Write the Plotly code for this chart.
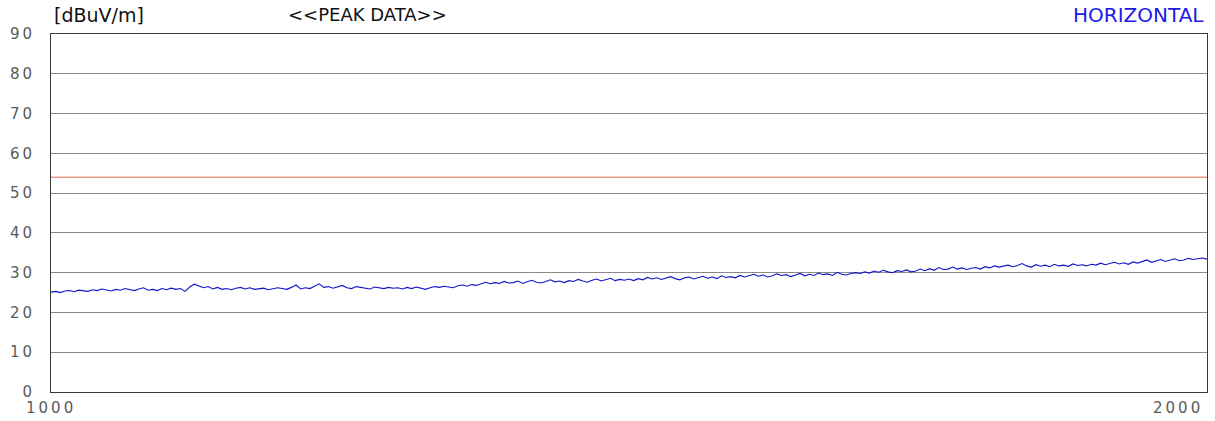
import plotly.graph_objects as go

# Frequency sweep, 1000-2000 MHz in 4 MHz steps
freq_start = 1000
freq_step = 4

# Peak level readings [dBuV/m], one row per 100 MHz
peak_level = [
    25.1, 25.3, 25.0, 25.4, 25.5, 25.2, 25.6, 25.4, 25.3, 25.7, 25.5, 25.9, 25.6, 25.4, 25.8, 25.6, 26.0, 25.7, 25.5, 25.9, 26.2, 25.6, 25.8, 25.5, 26.0,
    25.7, 26.1, 25.8, 26.0, 25.3, 26.4, 27.1, 26.6, 26.2, 26.5, 25.9, 26.3, 25.8, 26.0, 25.7, 26.1, 26.3, 25.9, 26.2, 25.8, 26.0, 26.1, 25.7, 26.0, 26.2,
    26.0, 25.8, 26.3, 26.9, 25.9, 26.2, 26.0, 26.6, 27.2, 26.3, 26.5, 26.1, 26.4, 26.8, 26.2, 26.0, 26.5, 26.3, 26.1, 25.9, 26.4, 26.2, 26.0, 26.3, 26.1,
    26.2, 25.9, 26.3, 26.0, 26.4, 26.1, 25.8, 26.2, 26.5, 26.3, 26.6, 26.4, 26.2, 26.7, 26.9, 26.6, 27.0, 26.8, 27.3, 27.6, 27.2, 27.5, 27.3, 27.8, 27.4,
    27.5, 27.9, 27.3, 27.7, 28.1, 27.6, 27.4, 27.8, 28.2, 27.7, 27.9, 27.5, 28.0, 27.8, 28.3, 27.9, 27.6, 28.1, 28.4, 27.9, 28.2, 28.6, 28.0, 28.3, 28.1,
    28.4, 28.0, 28.5, 28.2, 28.8, 28.4, 28.7, 28.3, 28.6, 29.0, 28.5, 28.2, 28.7, 28.9, 28.4, 28.8, 29.1, 28.6, 28.9, 28.5, 29.2, 28.8, 29.0, 28.7, 29.3,
    28.9, 29.3, 29.6, 29.1, 29.4, 28.9, 29.2, 29.7, 29.3, 29.5, 29.0, 29.4, 29.8, 29.2, 29.6, 29.3, 29.9, 29.5, 29.7, 29.3, 30.1, 29.6, 29.4, 29.8, 30.0,
    29.8, 30.2, 29.9, 30.4, 30.1, 30.6, 30.2, 30.0, 30.5, 30.3, 30.7, 30.2, 30.4, 30.9, 30.5, 31.0, 30.6, 31.3, 30.8, 30.9, 31.4, 30.9, 31.2, 30.8, 31.1,
    31.3, 30.9, 31.5, 31.2, 31.7, 31.4, 31.6, 31.9, 31.5, 31.8, 32.3, 31.7, 31.4, 32.0, 31.6, 31.9, 31.5, 32.1, 31.7, 31.9, 31.6, 32.2, 31.8, 32.0, 31.7,
    32.1, 31.9, 32.4, 32.0, 32.3, 32.6, 32.2, 32.5, 32.1, 32.7, 32.4, 32.8, 33.2, 32.6, 32.9, 33.3, 32.8, 33.1, 33.5, 33.0, 33.2, 33.6, 33.3, 33.5, 33.7, 33.4,
]
frequency = [freq_start + i * freq_step for i in range(len(peak_level))]

limit_level = 54
x_range = [1000, 2000]
y_ticks = [0, 10, 20, 30, 40, 50, 60, 70, 80, 90]
x_tick_labels = ["1000", "2000"]


def spaced(label):
    # widen the digit spacing of a scale label
    return '<span style="letter-spacing:3px">' + label + "</span>"


fig = go.Figure()
fig.add_trace(go.Scatter(
    x=x_range, y=[limit_level, limit_level], mode="lines",
    line=dict(color="#e0694a", width=1), hoverinfo="skip",
))
fig.add_trace(go.Scatter(
    x=frequency, y=peak_level, mode="lines",
    line=dict(color="#1212c8", width=1.1),
))

tick_font = dict(family="DejaVu Sans", size=15, color="#5a5a5a")
fig.update_layout(
    width=1215, height=421,
    margin=dict(l=51, r=8, t=34, b=29),
    paper_bgcolor="white", plot_bgcolor="white",
    showlegend=False,
    xaxis=dict(
        range=x_range, showgrid=False, zeroline=False,
        showticklabels=False, ticks="",
        showline=True, mirror=True, linecolor="#3a3a3a", linewidth=1,
    ),
    yaxis=dict(
        range=[0, 90], tickvals=y_ticks,
        ticktext=[spaced(str(v)) for v in y_ticks],
        showgrid=True, gridcolor="#8a8a8a", gridwidth=1, zeroline=False,
        showline=True, mirror=True, linecolor="#3a3a3a", linewidth=1,
        ticks="", ticklabelstandoff=12, tickfont=tick_font,
    ),
)

# Frequency endpoints under the axis
fig.add_annotation(x=x_range[0], y=0, xref="x", yref="paper", text=spaced(x_tick_labels[0]),
                   showarrow=False, xanchor="center", yanchor="top", yshift=-5, font=tick_font)
fig.add_annotation(x=x_range[1], y=0, xref="x", yref="paper", text=spaced(x_tick_labels[1]),
                   showarrow=False, xanchor="right", yanchor="top", yshift=-5, xshift=-2, font=tick_font)

# Header labels, positions given in pixels and converted to paper fractions
plot_w = 1215 - 51 - 8
plot_h = 421 - 34 - 29


def px(x, y):
    return (x - 51) / plot_w, (421 - y - 29) / plot_h


head_font = dict(family="DejaVu Sans", size=19, color="#111111")
hx, hy = px(52, 15)
fig.add_annotation(x=hx, y=hy, xref="paper", yref="paper", text="[dBuV/m]",
                   showarrow=False, xanchor="left", yanchor="middle", font=head_font)
hx, hy = px(367, 15)
fig.add_annotation(x=hx, y=hy, xref="paper", yref="paper", text="&lt;&lt;PEAK DATA&gt;&gt;",
                   showarrow=False, xanchor="center", yanchor="middle",
                   font=dict(family="DejaVu Sans", size=18, color="#111111"))
hx, hy = px(1206, 15)
fig.add_annotation(x=hx, y=hy, xref="paper", yref="paper", text="HORIZONTAL",
                   showarrow=False, xanchor="right", yanchor="middle",
                   font=dict(family="DejaVu Sans", size=20, color="#1a1ae6"))

fig.write_html("out.html")
